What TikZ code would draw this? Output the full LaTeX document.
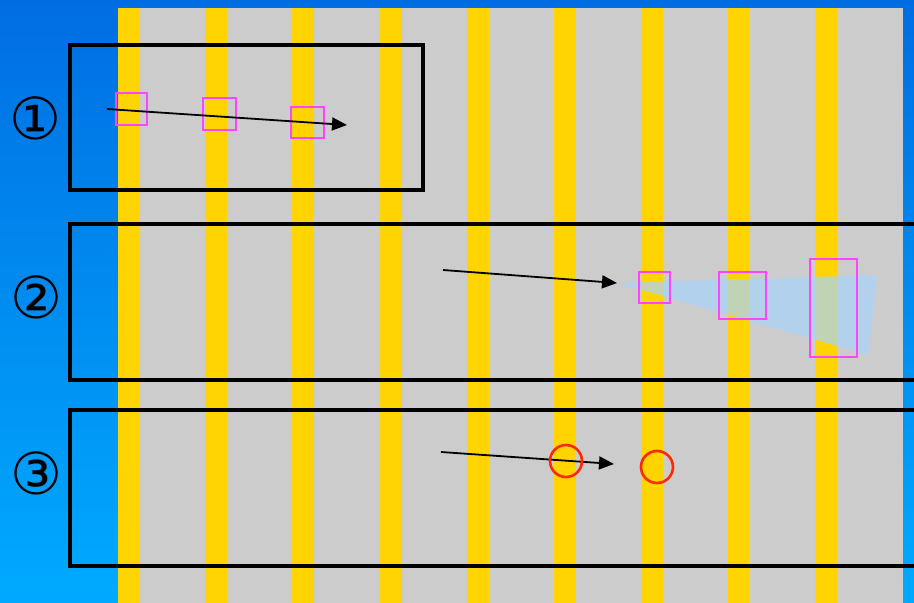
\documentclass[tikz,border=0pt]{standalone}
\usepackage{fontspec}
\newfontfamily\symfont{DejaVu Sans}
\usetikzlibrary{arrows.meta}
\definecolor{bgtop}{RGB}{0,110,226}
\definecolor{bgbot}{RGB}{0,170,255}
\definecolor{lanegrey}{RGB}{204,204,204}
\definecolor{stripe}{RGB}{255,212,0}
\definecolor{pinkbox}{RGB}{255,68,255}
\definecolor{redring}{RGB}{255,40,0}
\definecolor{fan}{RGB}{168,212,251}
\tikzset{
  framebox/.style={draw=black,line width=4.2pt},
  pinkrect/.style={draw=pinkbox,line width=2.6pt},
  redcirc/.style={draw=redring,line width=2.6pt},
  motion/.style={draw=black,line width=1.8pt,-{Triangle[length=15pt,width=13pt]}},
  numlabel/.style={font=\symfont\fontsize{58}{58}\selectfont,inner sep=0pt}
}
\begin{document}
\begin{tikzpicture}[x=1pt,y=-1pt]
\useasboundingbox (0,0) rectangle (914,603);
\clip (0,0) rectangle (914,603);
\shade[top color=bgtop,bottom color=bgbot] (0,0) rectangle (914,603);
\fill[lanegrey] (118,8) rectangle (903,603);
\foreach \x in {118,205,292,380,467,554,641,728,815}
  \fill[stripe] (\x,8) rectangle ++(22,595);
% translucent fan
\fill[fan,opacity=0.72] (618,283) -- (877,275) -- (868,355) -- cycle;
% frames
\draw[framebox] (70,45) rectangle (423,190);
\draw[framebox] (70,224) rectangle (930,380);
\draw[framebox] (70,410) rectangle (930,566);
% labels
\node[numlabel] (n1) at (35,118) {①};
\node[numlabel] (n2) at (36,297) {②};
\node[numlabel] (n3) at (36,473) {③};
% row 1
\node[pinkrect,minimum width=31pt,minimum height=32pt,inner sep=0pt] (p1) at (131.5,109) {};
\node[pinkrect,minimum width=33pt,minimum height=32pt,inner sep=0pt] (p2) at (219.5,114) {};
\node[pinkrect,minimum width=33pt,minimum height=31pt,inner sep=0pt] (p3) at (307.5,122.5) {};
\coordinate (a1s) at (107,109);
\coordinate (a1e) at (347,125);
\draw[motion] (a1s) -- (a1e);
% row 2
\coordinate (a2s) at (443,270);
\coordinate (a2e) at (617,283);
\draw[motion] (a2s) -- (a2e);
\node[pinkrect,minimum width=31pt,minimum height=31pt,inner sep=0pt] (q1) at (654.5,287.5) {};
\node[pinkrect,minimum width=47pt,minimum height=47pt,inner sep=0pt] (q2) at (742.5,295.5) {};
\node[pinkrect,minimum width=47pt,minimum height=98pt,inner sep=0pt] (q3) at (833.5,308) {};
% row 3
\coordinate (a3s) at (441,452);
\coordinate (a3e) at (614,464);
\draw[motion] (a3s) -- (a3e);
\node[redcirc,circle,minimum size=32pt,inner sep=0pt] (c1) at (566,461) {};
\node[redcirc,circle,minimum size=32pt,inner sep=0pt] (c2) at (657,467) {};
\end{tikzpicture}
\end{document}
